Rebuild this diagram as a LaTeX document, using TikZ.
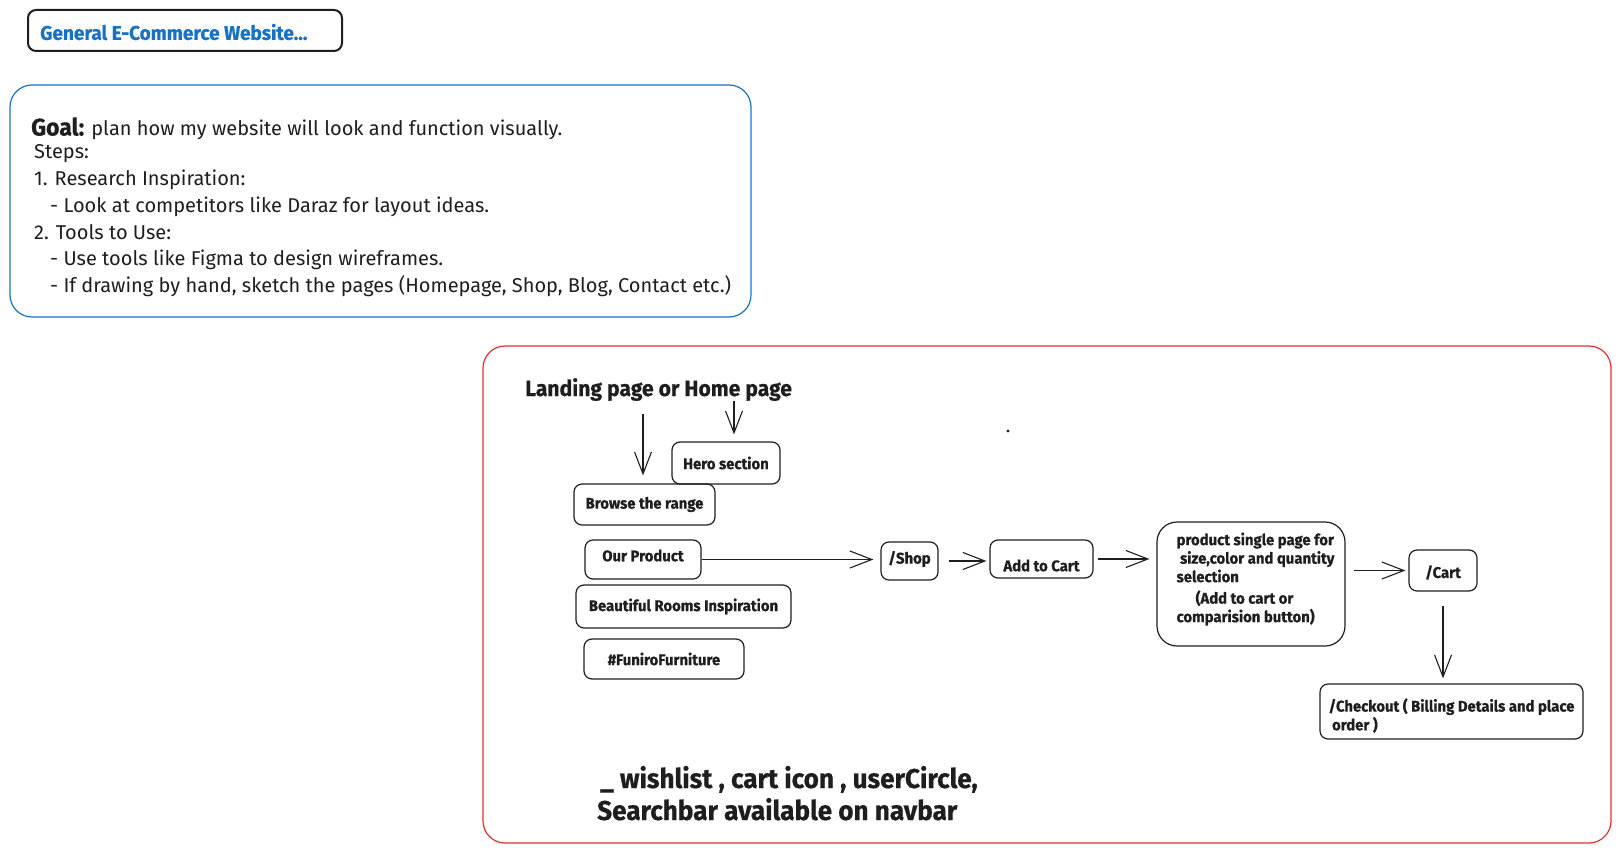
\documentclass[tikz,border=0pt]{standalone}
\usepackage{fontspec}
\usetikzlibrary{arrows.meta}
\newfontfamily\hand{Fira Sans}[FakeStretch=0.96,FakeBold=0.6]
\newfontfamily\body{Fira Sans}
\definecolor{xblue}{HTML}{1971C2}
\definecolor{xred}{HTML}{E03131}
\definecolor{xink}{HTML}{1E1E1E}
\newcommand{\shifted}[2]{\raisebox{#1}[\height][\depth]{#2}}
\tikzset{
  box/.style={draw=xink, rounded corners=8pt, line width=1.2pt, inner sep=2pt,
    font=\hand\bfseries\fontsize{15.5}{18}\selectfont, text=xink, align=center},
  arr/.style={draw=xink, line width=1.1pt, -{Straight Barb[length=22pt,width=17pt,line width=1.1pt]}},
}
\begin{document}
\begin{tikzpicture}[x=1pt,y=-1pt]
\useasboundingbox (0,0) rectangle (1621,853);
% title
\node[draw=xink, line width=2pt, rounded corners=8pt, minimum width=314pt, minimum height=41pt, inner sep=0pt] (titlebox) at (185,30.5) {};
\node[anchor=west, text=xblue, font=\hand\bfseries\fontsize{19.8}{22}\selectfont, inner sep=0pt] (title) at (40,32) {General E-Commerce Website...};
% goal box
\node[draw=xblue, line width=1.2pt, rounded corners=22pt, minimum width=741pt, minimum height=232pt, inner sep=0pt] (goalbox) at (380.5,201) {};
\begin{scope}[font=\body\fontsize{20}{24}\selectfont, text=xink, inner sep=0pt, anchor=base west]
\node (g1) at (31,135.5) {{\hand\bfseries\fontsize{24}{24}\selectfont Goal:} plan how my website will look and function visually.};
\node (g2) at (34,158.5) {Steps:};
\node (g3) at (34,185.5) {1. Research Inspiration:};
\node (g4) at (50,212.5) {- Look at competitors like Daraz for layout ideas.};
\node (g5) at (34,239.5) {2. Tools to Use:};
\node (g6) at (50,265.5) {- Use tools like Figma to design wireframes.};
\node (g7) at (50,292.5) {- If drawing by hand, sketch the pages (Homepage, Shop, Blog, Contact etc.)};
\end{scope}
% red frame
\node[draw=xred, line width=1.2pt, rounded corners=22pt, minimum width=1128pt, minimum height=497pt, inner sep=0pt] (frame) at (1047,594.5) {};
\node[anchor=base west, inner sep=0pt, text=xink, font=\hand\bfseries\fontsize{22}{24}\selectfont] (landing) at (525,396) {Landing page or Home page};
% boxes
\node[box, minimum width=108pt, minimum height=42pt] (hero) at (726,463) {Hero section};
\node[box, minimum width=141pt, minimum height=41pt] (browse) at (644.5,504.5) {Browse the range};
\node[box, minimum width=116pt, minimum height=39pt] (ourp) at (643,559.5) {\shifted{4pt}{Our Product}};
\node[box, minimum width=215pt, minimum height=43pt] (rooms) at (683.5,606.5) {Beautiful Rooms Inspiration};
\node[box, minimum width=160pt, minimum height=40pt] (funiro) at (664,659) {\#FuniroFurniture};
\node[box, minimum width=57pt, minimum height=38pt] (shop) at (909.5,561) {\shifted{2pt}{/Shop}};
\node[box, minimum width=103pt, minimum height=38pt] (addcart) at (1041.5,559) {\shifted{-6.5pt}{Add to Cart}};
\node[box, minimum width=188pt, minimum height=124pt, rounded corners=20pt] (product) at (1251,584) {};
\node[box, draw=none, align=left, anchor=north west, font=\hand\bfseries\fontsize{15.5}{18.5}\selectfont, inner sep=0pt] (producttext) at (1176,532)
  {product single page for\\ \ size,color and quantity\\selection\\[3pt] \quad\ (Add to cart or\\comparision button)};
\node[box, minimum width=68pt, minimum height=41pt] (cart) at (1443,570.5) {\shifted{-2pt}{/Cart}};
\node[box, minimum width=263pt, minimum height=55pt] (checkout) at (1451.5,711.5)
  {\shifted{-5.5pt}{\begin{tabular}{@{}l@{}}/Checkout ( Billing Details and place\\ \ order )\end{tabular}}};
% arrows
\coordinate (a1) at (643,414);
\coordinate (a2) at (734,401);
\draw[arr, shorten >=8pt] (a1) -- (browse.north -| a1);
\draw[arr, shorten >=7pt] (a2) -- (hero.north -| a2);
\draw[arr, shorten >=7pt] (ourp.east) -- (ourp.east -| shop.west);
\draw[arr, shorten <=10pt, shorten >=3pt] (shop.east) -- (shop.east -| addcart.west);
\draw[arr, shorten <=4pt, shorten >=7pt] (addcart.east) -- (addcart.east -| product.west);
\draw[arr, shorten <=8pt, shorten >=3pt] (cart.west -| product.east) -- (cart.west);
\draw[arr, shorten <=14pt, shorten >=5pt] (cart.south) -- (cart.south |- checkout.north);
% dot
\fill[xink] (1008,431) circle (1.6pt);
% bottom note
\node[anchor=base west, inner sep=0pt, text=xink, font=\hand\bfseries\fontsize{27.2}{31}\selectfont] (note) at (600,788)
  {\_ wishlist , cart icon , userCircle,};
\node[anchor=base west, inner sep=0pt, text=xink, font=\hand\bfseries\fontsize{27.2}{31}\selectfont] (note2) at (597,820)
  {Searchbar available on navbar};
\end{tikzpicture}
\end{document}
